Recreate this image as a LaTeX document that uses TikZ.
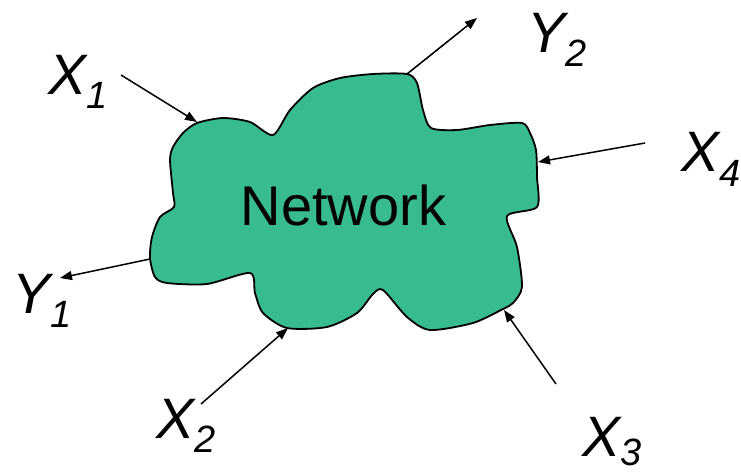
\documentclass[tikz,border=0pt]{standalone}
\usepackage{fontspec}
\setmainfont{Liberation Sans}
\usetikzlibrary{arrows.meta}
\definecolor{netgreen}{RGB}{56,187,143}
% variable name with a lowered index (optional argument: how far it is lowered)
\newcommand\sublab[3][14pt]{#2\raisebox{-#1}{\fontsize{38}{38}\selectfont #3}}
\begin{document}
\begin{tikzpicture}[x=1pt,y=-1pt,
  link/.style={line width=1.5pt,-{Triangle[length=12pt,width=9pt]}},
  var/.style={anchor=base west,inner sep=0pt,font=\fontsize{57}{57}\selectfont\itshape},
  cloudline/.style={draw=black,line width=1.8pt,fill=netgreen,line join=round}]
\useasboundingbox (0,0) rectangle (741,473);

% the network cloud
\draw[cloudline] plot[smooth cycle,tension=0.45] coordinates {
  (197,123) (223,118) (250,122) (273,135) (290,110) (313,88) (340,78)
  (373,74) (407,74) (417,83) (423,110) (431,128) (457,130) (490,125)
  (522,123) (530,133) (536,150) (537,177) (537,207) (507,216) (517,247)
  (522,287) (513,303) (503,309) (473,323) (430,330) (407,317) (383,290)
  (373,294) (357,313) (327,327) (287,328) (263,313) (255,293) (250,273)
  (207,284) (167,283) (155,277) (150,258) (152,237) (160,217) (174,207)
  (173,193) (170,160) (173,147) (183,133)};
\node[anchor=base,inner sep=0pt,font=\fontsize{56}{56}\selectfont] (net) at (343.5,225) {Network};

% attachment points on the cloud outline
\coordinate (pX1) at (197,122);
\coordinate (pY1) at (150,259);
\coordinate (pX2) at (288,328);
\coordinate (pX3) at (504,310);
\coordinate (pY2) at (407,74);
\coordinate (pX4) at (538,162);

% free ends of the connectors
\coordinate (eX1) at (121,75);
\coordinate (eY1) at (60,278);
\coordinate (eX2) at (201,404);
\coordinate (eX3) at (556,384);
\coordinate (eY2) at (477,18);
\coordinate (eX4) at (645,143);

% inputs and outputs
\node[var] (X1) at (48,95)  {\sublab{X}{1}};
\node[var] (Y1) at (12,313) {\sublab{Y}{1}};
\node[var] (X2) at (156,438) {\sublab{X}{2}};
\node[var] (X3) at (582,456) {\sublab[9pt]{X}{3}};
\node[var] (Y2) at (527,53) {\sublab{Y}{2}};
\node[var] (X4) at (681,172) {\sublab{X}{4}};

\draw[link] (eX1) -- (pX1);
\draw[link] (pY1) -- (eY1);
\draw[link] (eX2) -- (pX2);
\draw[link] (eX3) -- (pX3);
\draw[link] (pY2) -- (eY2);
\draw[link] (eX4) -- (pX4);
\end{tikzpicture}
\end{document}
